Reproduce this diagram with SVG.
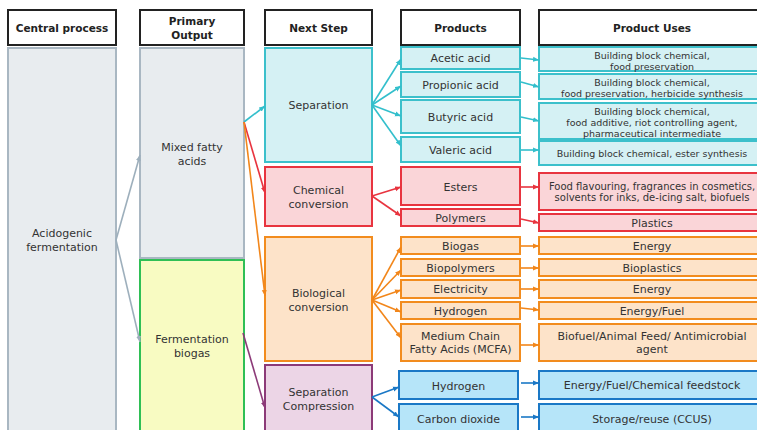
<svg xmlns="http://www.w3.org/2000/svg" width="757" height="430" viewBox="0 0 757 430">
  <style>
    text { font-family: "DejaVu Sans", "Liberation Sans", sans-serif; fill: #333; text-anchor: middle; }
    .hd rect { fill: #fff; stroke: #222; stroke-width: 2; }
    .hd text { font-weight: bold; font-size: 10.5px; fill: #222; }
    .t { font-size: 11px; }
    .s { font-size: 9.5px; }
    .m { font-size: 10px; }
    .grey { fill: #e8ecef; stroke: #a9b7c2; stroke-width: 2; }
    .yel { fill: #f8fbc2; stroke: #2fbf55; stroke-width: 2; }
    .cy { fill: #d5f1f4; stroke: #3cc0cb; stroke-width: 2; }
    .rd { fill: #fad5d8; stroke: #e8343f; stroke-width: 2; }
    .or { fill: #fde3c9; stroke: #f28c1e; stroke-width: 2; }
    .pu { fill: #ecd5e6; stroke: #8c3a78; stroke-width: 2; }
    .bl { fill: #b6e5f9; stroke: #1a78c6; stroke-width: 2; }
    .c { fill: none; stroke-width: 1.6; }
    .cg { stroke: #9dafbc; marker-end: url(#ag); }
    .cc { stroke: #33bfcc; marker-end: url(#ac); }
    .cr { stroke: #e8343f; marker-end: url(#ar); }
    .co { stroke: #f2861a; marker-end: url(#ao); }
    .cp { stroke: #8c3a78; marker-end: url(#ap); }
    .cb { stroke: #1a78c6; marker-end: url(#ab); }
  </style>
  <defs>
    <marker id="ag" markerUnits="userSpaceOnUse" markerWidth="7" markerHeight="6" refX="6" refY="3" orient="auto"><path d="M0,0.5 L6,3 L0,5.5 z" fill="#9dafbc"/></marker>
    <marker id="ac" markerUnits="userSpaceOnUse" markerWidth="7" markerHeight="6" refX="6" refY="3" orient="auto"><path d="M0,0.5 L6,3 L0,5.5 z" fill="#33bfcc"/></marker>
    <marker id="ar" markerUnits="userSpaceOnUse" markerWidth="7" markerHeight="6" refX="6" refY="3" orient="auto"><path d="M0,0.5 L6,3 L0,5.5 z" fill="#e8343f"/></marker>
    <marker id="ao" markerUnits="userSpaceOnUse" markerWidth="7" markerHeight="6" refX="6" refY="3" orient="auto"><path d="M0,0.5 L6,3 L0,5.5 z" fill="#f2861a"/></marker>
    <marker id="ap" markerUnits="userSpaceOnUse" markerWidth="7" markerHeight="6" refX="6" refY="3" orient="auto"><path d="M0,0.5 L6,3 L0,5.5 z" fill="#8c3a78"/></marker>
    <marker id="ab" markerUnits="userSpaceOnUse" markerWidth="7" markerHeight="6" refX="6" refY="3" orient="auto"><path d="M0,0.5 L6,3 L0,5.5 z" fill="#1a78c6"/></marker>
  </defs>

  <!-- column headers -->
  <g id="hd-central" class="hd"><rect x="8" y="10" width="108" height="35"/><text x="62" y="32">Central process</text></g>
  <g id="hd-primary" class="hd"><rect x="140" y="10" width="104" height="35"/><text x="192" y="25">Primary</text><text x="192" y="39">Output</text></g>
  <g id="hd-next" class="hd"><rect x="265" y="10" width="107" height="35"/><text x="318.5" y="32">Next Step</text></g>
  <g id="hd-products" class="hd"><rect x="401" y="10" width="119" height="35"/><text x="460.5" y="32">Products</text></g>
  <g id="hd-uses" class="hd"><rect x="539" y="10" width="230" height="35"/><text x="652" y="32">Product Uses</text></g>

  <!-- central process -->
  <g id="acidogenic"><rect class="grey" x="8" y="48" width="108" height="392"/><text class="t" x="62" y="237">Acidogenic</text><text class="t" x="62" y="251">fermentation</text></g>

  <!-- primary outputs -->
  <g id="mixed-fatty-acids"><rect class="grey" x="140" y="48" width="104" height="210"/><text class="t" x="192" y="151">Mixed fatty</text><text class="t" x="192" y="165">acids</text></g>
  <g id="fermentation-biogas"><rect class="yel" x="140" y="260" width="104" height="180"/><text class="t" x="192" y="343">Fermentation</text><text class="t" x="192" y="357">biogas</text></g>

  <!-- next steps -->
  <g id="separation"><rect class="cy" x="265" y="48" width="107" height="114"/><text class="t" x="318.5" y="109">Separation</text></g>
  <g id="chemical-conversion"><rect class="rd" x="265" y="167" width="107" height="59"/><text class="t" x="318.5" y="194">Chemical</text><text class="t" x="318.5" y="208">conversion</text></g>
  <g id="biological-conversion"><rect class="or" x="265" y="237" width="107" height="124"/><text class="t" x="318.5" y="297">Biological</text><text class="t" x="318.5" y="311">conversion</text></g>
  <g id="separation-compression"><rect class="pu" x="265" y="365" width="107" height="80"/><text class="t" x="318.5" y="396">Separation</text><text class="t" x="318.5" y="410">Compression</text></g>

  <!-- products -->
  <g id="acetic-acid"><rect class="cy" x="401" y="47" width="119" height="22"/><text class="t" x="460.5" y="62">Acetic acid</text></g>
  <g id="propionic-acid"><rect class="cy" x="401" y="72" width="119" height="25"/><text class="t" x="460.5" y="89">Propionic acid</text></g>
  <g id="butyric-acid"><rect class="cy" x="401" y="100" width="119" height="33"/><text class="t" x="460.5" y="121">Butyric acid</text></g>
  <g id="valeric-acid"><rect class="cy" x="401" y="137" width="119" height="25"/><text class="t" x="460.5" y="154">Valeric acid</text></g>
  <g id="esters"><rect class="rd" x="401" y="167" width="119" height="38"/><text class="t" x="460.5" y="191">Esters</text></g>
  <g id="polymers"><rect class="rd" x="401" y="209" width="119" height="17"/><text class="t" x="460.5" y="222">Polymers</text></g>
  <g id="biogas"><rect class="or" x="401" y="237" width="119" height="17"/><text class="t" x="460.5" y="250">Biogas</text></g>
  <g id="biopolymers"><rect class="or" x="401" y="259" width="119" height="17"/><text class="t" x="460.5" y="272">Biopolymers</text></g>
  <g id="electricity"><rect class="or" x="401" y="280" width="119" height="18"/><text class="t" x="460.5" y="293">Electricity</text></g>
  <g id="hydrogen-bio"><rect class="or" x="401" y="302" width="119" height="17"/><text class="t" x="460.5" y="315">Hydrogen</text></g>
  <g id="mcfa"><rect class="or" x="401" y="324" width="119" height="37"/><text class="t" x="460.5" y="340">Medium Chain</text><text class="t" x="460.5" y="353">Fatty Acids (MCFA)</text></g>
  <g id="hydrogen-gas"><rect class="bl" x="399" y="371" width="119" height="28"/><text class="t" x="458.5" y="390">Hydrogen</text></g>
  <g id="carbon-dioxide"><rect class="bl" x="399" y="404" width="119" height="36"/><text class="t" x="458.5" y="423">Carbon dioxide</text></g>

  <!-- product uses -->
  <g id="use-acetic"><rect class="cy" x="539" y="47" width="230" height="24"/><text class="s" x="652" y="58.5">Building block chemical,</text><text class="s" x="652" y="69.5">food preservation</text></g>
  <g id="use-propionic"><rect class="cy" x="539" y="74" width="230" height="25"/><text class="s" x="652" y="85.5">Building block chemical,</text><text class="s" x="652" y="96.5">food preservation, herbicide synthesis</text></g>
  <g id="use-butyric"><rect class="cy" x="539" y="103" width="230" height="36"/><text class="s" x="652" y="114.5">Building block chemical,</text><text class="s" x="652" y="125.5">food additive, riot controlling agent,</text><text class="s" x="652" y="136.5">pharmaceutical intermediate</text></g>
  <g id="use-valeric"><rect class="cy" x="539" y="141" width="230" height="24"/><text class="s" x="652" y="156.5">Building block chemical, ester synthesis</text></g>
  <g id="use-esters"><rect class="rd" x="539" y="173" width="230" height="37"/><text class="m" x="652" y="189.5">Food flavouring, fragrances in cosmetics,</text><text class="m" x="652" y="200.5">solvents for inks, de-icing salt, biofuels</text></g>
  <g id="use-polymers"><rect class="rd" x="539" y="214" width="230" height="17"/><text class="t" x="652" y="227">Plastics</text></g>
  <g id="use-biogas"><rect class="or" x="539" y="237" width="230" height="17"/><text class="t" x="652" y="250">Energy</text></g>
  <g id="use-biopolymers"><rect class="or" x="539" y="259" width="230" height="17"/><text class="t" x="652" y="272">Bioplastics</text></g>
  <g id="use-electricity"><rect class="or" x="539" y="280" width="230" height="18"/><text class="t" x="652" y="293">Energy</text></g>
  <g id="use-hydrogen-bio"><rect class="or" x="539" y="302" width="230" height="17"/><text class="t" x="652" y="315">Energy/Fuel</text></g>
  <g id="use-mcfa"><rect class="or" x="539" y="324" width="230" height="37"/><text class="t" x="652" y="340">Biofuel/Animal Feed/ Antimicrobial</text><text class="t" x="652" y="353">agent</text></g>
  <g id="use-hydrogen-gas"><rect class="bl" x="539" y="371" width="230" height="28"/><text class="t" x="652" y="389">Energy/Fuel/Chemical feedstock</text></g>
  <g id="use-carbon-dioxide"><rect class="bl" x="539" y="404" width="230" height="36"/><text class="t" x="652" y="423">Storage/reuse (CCUS)</text></g>

  <!-- connectors -->
  <g id="connectors" class="c">
    <line class="c cg" x1="116" y1="240" x2="140" y2="155"/>
    <line class="c cg" x1="116" y1="240" x2="140" y2="342"/>

    <line class="c cc" x1="244" y1="122" x2="265" y2="106"/>
    <line class="c cr" x1="244" y1="122" x2="265" y2="193"/>
    <line class="c co" x1="244" y1="122" x2="265" y2="296"/>
    <line class="c cp" x1="243" y1="333" x2="265" y2="408"/>

    <line class="c cc" x1="372" y1="105" x2="401" y2="59"/>
    <line class="c cc" x1="372" y1="105" x2="401" y2="86"/>
    <line class="c cc" x1="372" y1="105" x2="401" y2="116"/>
    <line class="c cc" x1="372" y1="105" x2="401" y2="146"/>

    <line class="c cr" x1="372" y1="196" x2="401" y2="187"/>
    <line class="c cr" x1="372" y1="196" x2="401" y2="216"/>

    <line class="c co" x1="372" y1="300" x2="401" y2="247"/>
    <line class="c co" x1="372" y1="300" x2="401" y2="270"/>
    <line class="c co" x1="372" y1="300" x2="401" y2="290"/>
    <line class="c co" x1="372" y1="300" x2="401" y2="312"/>
    <line class="c co" x1="372" y1="300" x2="401" y2="338"/>

    <line class="c cb" x1="372" y1="397" x2="399" y2="387"/>
    <line class="c cb" x1="372" y1="397" x2="399" y2="417"/>

    <line class="c cc" x1="521" y1="58" x2="539" y2="60"/>
    <line class="c cc" x1="521" y1="82" x2="539" y2="87"/>
    <line class="c cc" x1="521" y1="117" x2="539" y2="121"/>
    <line class="c cc" x1="521" y1="150" x2="539" y2="150"/>
    <line class="c cr" x1="521" y1="187" x2="539" y2="187"/>
    <line class="c cr" x1="521" y1="219" x2="539" y2="223"/>
    <line class="c co" x1="521" y1="246" x2="539" y2="246"/>
    <line class="c co" x1="521" y1="268" x2="539" y2="268"/>
    <line class="c co" x1="521" y1="289" x2="539" y2="289"/>
    <line class="c co" x1="521" y1="308" x2="539" y2="310"/>
    <line class="c co" x1="521" y1="345" x2="539" y2="345"/>
    <line class="c cb" x1="521" y1="383" x2="539" y2="383"/>
    <line class="c cb" x1="521" y1="417" x2="539" y2="417"/>
  </g>
</svg>
